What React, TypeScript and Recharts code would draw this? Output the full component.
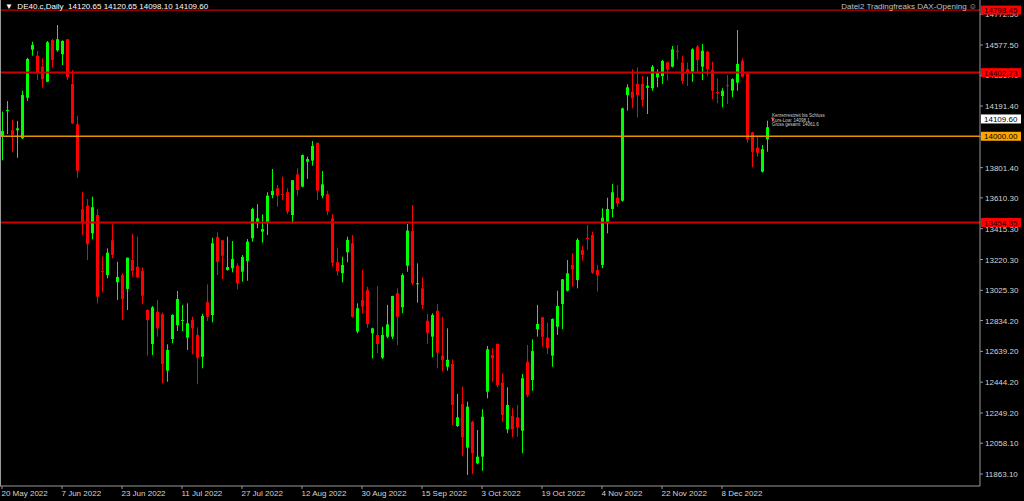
import { ComposedChart, Bar, XAxis, YAxis, ReferenceLine } from 'recharts';

// DE40.c daily candles, 20 May 2022 onwards
const opens = [
  13997, 14161, 14038, 14038, 13987, 14244, 14548, 14510, 14440, 14345,
  14609, 14544, 14519, 14614, 14331, 14076, 13538, 13561, 13386, 13502,
  13148, 13122, 13342, 13076, 13122, 13034, 13217, 13175, 13148, 12901,
  12686, 12890, 12874, 12517, 12717, 12806, 12834, 12726, 12838, 12743,
  12605, 12950, 12869, 13363, 13342, 13154, 13165, 13181, 13143, 13211,
  13355, 13453, 13396, 13456, 13628, 13671, 13635, 13646, 13502, 13759,
  13681, 13839, 13846, 13958, 13624, 13633, 13481, 13203, 13133, 13266,
  13323, 12764, 12964, 13027, 12753, 12743, 12599, 12732, 12732, 13007,
  12918, 13181, 13401, 13068, 13038, 12833, 12732, 12896, 12612, 12542,
  12559, 12167, 12306, 12030, 12194, 11931, 11973, 12384, 12616, 12686,
  12441, 12146, 12230, 12222, 12137, 12574, 12458, 12779, 12855, 12726,
  12612, 12795, 12939, 13023, 13186, 13091, 13281, 13356, 13375, 13154,
  13186, 13449, 13540, 13611, 13592, 14261, 14282, 14331, 14331, 14307,
  14304, 14373, 14381, 14468, 14440, 14541, 14466, 14424, 14409, 14567,
  14440, 14535, 14419, 14280, 14255, 14324, 14288, 14339, 14478, 14394,
  14025, 13928, 13776, 13981, 14120.65,
];
const highs = [
  14156, 14223, 14103, 14097, 14288, 14497, 14598, 14540, 14493, 14603,
  14615, 14704, 14607, 14615, 14419, 14128, 13649, 13603, 13618, 13540,
  13238, 13291, 13443, 13206, 13133, 13232, 13382, 13365, 13171, 12905,
  12926, 12964, 12884, 12684, 12874, 13021, 12933, 12943, 12858, 12791,
  12876, 13063, 13358, 13392, 13344, 13365, 13337, 13196, 13249, 13350,
  13548, 13570, 13506, 13646, 13793, 13692, 13744, 13671, 13723, 13797,
  13885, 13871, 13970, 13962, 13780, 13654, 13508, 13295, 13238, 13365,
  13375, 12943, 13154, 13048, 12789, 13053, 12795, 12933, 12991, 13038,
  13133, 13445, 13565, 13196, 13108, 12876, 12880, 12939, 12858, 12785,
  12589, 12369, 12416, 12321, 12200, 12142, 12273, 12673, 12659, 12690,
  12500, 12412, 12279, 12300, 12496, 12679, 12715, 12933, 12858, 12821,
  12848, 13023, 13097, 13217, 13260, 13355, 13306, 13439, 13396, 13186,
  13544, 13611, 13698, 13692, 14181, 14329, 14424, 14436, 14381, 14377,
  14451, 14424, 14483, 14472, 14571, 14578, 14508, 14466, 14557, 14578,
  14584, 14540, 14472, 14367, 14304, 14388, 14367, 14672, 14493, 14398,
  14029, 13994, 13945, 14099, 14120.65,
];
const lows = [
  13848, 14014, 13902, 13864, 13983, 14223, 14510, 14356, 14307, 14343,
  14434, 14535, 14451, 14356, 14078, 13738, 13375, 13217, 13348, 12943,
  13013, 13101, 13228, 12964, 12838, 12901, 13112, 13101, 12937, 12612,
  12616, 12732, 12437, 12447, 12690, 12768, 12768, 12648, 12621, 12431,
  12532, 12831, 12823, 13122, 13097, 13150, 13139, 13032, 13080, 13086,
  13333, 13418, 13327, 13375, 13608, 13554, 13597, 13508, 13449, 13624,
  13678, 13730, 13814, 13597, 13608, 13502, 13175, 13118, 13076, 13203,
  12852, 12753, 12880, 12789, 12595, 12627, 12591, 12722, 12717, 12679,
  12880, 13143, 13059, 12947, 12905, 12686, 12602, 12532, 12511, 12517,
  12173, 12160, 11977, 11857, 11863, 11925, 11884, 12342, 12447, 12412,
  12194, 12121, 12095, 12099, 11994, 12349, 12390, 12732, 12669, 12622,
  12542, 12743, 12779, 13018, 13048, 13038, 13213, 13281, 13129, 13017,
  13165, 13386, 13487, 13554, 13586, 14162, 14177, 14120, 14187, 14141,
  14288, 14310, 14331, 14352, 14436, 14487, 14331, 14318, 14345, 14398,
  14356, 14381, 14234, 14209, 14183, 14204, 14247, 14288, 14373, 13959,
  13804, 13871, 13770, 13902, 14098.1,
];
const closes = [
  14033, 14166, 14008, 14050, 14261, 14489, 14578, 14405, 14361, 14595,
  14483, 14614, 14603, 14375, 14082, 13782, 13449, 13317, 13551, 12985,
  13143, 13263, 13249, 13110, 12970, 13232, 13148, 13108, 12991, 12838,
  12918, 12785, 12559, 12648, 12869, 12970, 12838, 12817, 12785, 12599,
  12863, 12858, 13323, 13206, 13244, 13173, 13224, 13070, 13236, 13333,
  13540, 13481, 13413, 13624, 13654, 13624, 13632, 13523, 13722, 13660,
  13881, 13856, 13939, 13656, 13696, 13527, 13200, 13148, 13186, 13344,
  12858, 12912, 12922, 12812, 12785, 12686, 12743, 12810, 12989, 12858,
  13122, 13403, 13070, 13070, 12933, 12757, 12869, 12631, 12585, 12585,
  12300, 12222, 12095, 12289, 11994, 11973, 12226, 12652, 12595, 12426,
  12237, 12300, 12146, 12159, 12469, 12363, 12641, 12812, 12732, 12659,
  12844, 12926, 13095, 13133, 13158, 13344, 13249, 13353, 13137, 13122,
  13485, 13540, 13646, 13576, 14177, 14310, 14240, 14261, 14230, 14320,
  14440, 14405, 14476, 14424, 14550, 14538, 14350, 14398, 14550, 14483,
  14541, 14426, 14288, 14276, 14288, 14321, 14361, 14457, 14377, 13981,
  13902, 13896, 13918, 14057, 14109.6,
];

// one label every 12 bars
const xTickIdx = [0, 12, 24, 36, 48, 60, 72, 84, 96, 108, 120, 132, 144];
const xTickText = [
  '20 May 2022', '7 Jun 2022', '23 Jun 2022', '11 Jul 2022', '27 Jul 2022',
  '12 Aug 2022', '30 Aug 2022', '15 Sep 2022', '3 Oct 2022', '19 Oct 2022',
  '4 Nov 2022', '22 Nov 2022', '8 Dec 2022',
];

const yTicks = [
  11863.1, 12058.1, 12249.2, 12444.2, 12639.2, 12834.2, 13025.3, 13220.3,
  13415.3, 13610.3, 13801.4, 13996.4, 14191.4, 14386.4, 14577.5, 14772.5,
];

const redLevels = [14798.45, 14402.73, 13454.35];
const orangeLevel = 14000;
const lastPrice = 14109.6;

// price tags on the scale, drawn after the normal ticks so they sit on top
const tagValues = [...redLevels, orangeLevel, lastPrice];
const tagBg = ['#ff0000', '#ff0000', '#ff0000', '#ffa500', '#ffffff'];
const tagFg = ['#200000', '#200000', '#200000', '#000000', '#000000'];

const SLOTS = 196; // empty space to the right of the last bar
const data = Array.from({ length: SLOTS }, (_, i) =>
  i < opens.length
    ? { i, open: opens[i], high: highs[i], low: lows[i], close: closes[i] }
    : { i },
);

const FONT = '"Liberation Sans", Arial, sans-serif';
const AXIS = '#9a9a9a';

function Candle(props: any) {
  const { x, y, width, height, payload } = props;
  if (payload == null || payload.high == null) return <g />;
  const { open, close, high, low } = payload;
  const k = high - low > 0 ? height / (high - low) : 0;
  const cx = x + width / 2;
  const top = y + (high - Math.max(open, close)) * k;
  const bot = y + (high - Math.min(open, close)) * k;
  const color = close > open ? '#00ff00' : '#ff0000';
  return (
    <g>
      <rect x={cx - 0.5} y={y} width={1} height={Math.max(1, height)} fill={color} />
      <rect x={cx - 1.5} y={top} width={3} height={Math.max(1, bot - top)} fill={color} />
    </g>
  );
}

function XTick(props: any) {
  const { x, y, payload } = props;
  const k = xTickIdx.indexOf(payload.value);
  if (k < 0) return <g />;
  return (
    <g>
      <line x1={x - 0.5} x2={x - 0.5} y1={y} y2={y + 3} stroke={AXIS} />
      <text x={x - 1} y={y + 10} fontSize={8} fill="#d4d4d4" fontFamily={FONT}>
        {xTickText[k]}
      </text>
    </g>
  );
}

function YTick(props: any) {
  const { x, y, payload, index } = props;
  const t = index - yTicks.length;
  if (t >= 0) {
    return (
      <g>
        <rect x={x + 1} y={y - 4.5} width={40} height={9} fill={tagBg[t]} />
        <text x={x + 4} y={y + 3} fontSize={8} fill={tagFg[t]} fontFamily={FONT}>
          {tagValues[t].toFixed(2)}
        </text>
      </g>
    );
  }
  return (
    <g>
      <line x1={x} x2={x + 3} y1={y} y2={y} stroke={AXIS} />
      <text x={x + 5} y={y + 3} fontSize={8} fill="#d4d4d4" fontFamily={FONT}>
        {Number(payload.value).toFixed(2)}
      </text>
    </g>
  );
}

export default function App() {
  return (
    <div style={{ position: 'absolute', left: 0, top: 0, width: 1024, height: 501, background: '#000', overflow: 'hidden' }}>
      <ComposedChart
        width={1024}
        height={501}
        data={data}
        margin={{ top: 0, right: 0, bottom: 0, left: 0 }}
        barCategoryGap={0}
        barGap={0}
      >
        <XAxis
          dataKey="i"
          type="category"
          interval={0}
          height={15}
          tickSize={0}
          tickMargin={0}
          tickLine={false}
          axisLine={{ stroke: AXIS }}
          tick={<XTick />}
        />
        <YAxis
          orientation="right"
          width={44}
          domain={[11787.3, 14862.2]}
          allowDataOverflow
          ticks={[...yTicks, ...tagValues]}
          interval={0}
          tickSize={0}
          tickMargin={0}
          tickLine={false}
          axisLine={{ stroke: AXIS }}
          tick={<YTick />}
        />
        <Bar
          dataKey={(d: any) => (d.high == null ? null : [d.low, d.high])}
          shape={<Candle />}
          isAnimationActive={false}
        />
        {redLevels.map((v, n) => (
          <ReferenceLine
            key={v}
            y={v}
            stroke={n === 0 ? '#ff0000' : '#d00000'}
            strokeWidth={n === 0 ? 1 : 2}
          />
        ))}
        <ReferenceLine y={orangeLevel} stroke="#e39400" strokeWidth={1.5} />
      </ComposedChart>

      <div style={{ position: 'absolute', left: 0, top: 0, width: 1, height: 486, background: AXIS }} />

      <div style={{ position: 'absolute', left: 5, top: 2, fontFamily: FONT, fontSize: 8, color: '#fff', whiteSpace: 'pre' }}>
        {'\u25BC  DE40.c,Daily  14120.65 14120.65 14098.10 14109.60'}
      </div>
      <div style={{ position: 'absolute', right: 47, top: 2, fontFamily: FONT, fontSize: 8, color: '#c0c0c0', whiteSpace: 'pre' }}>
        {'Datei2 Tradingfreaks DAX-Opening \u263A'}
      </div>
      <div style={{ position: 'absolute', left: 772, top: 114, fontFamily: FONT, fontSize: 4.5, lineHeight: '4.6px', color: '#cfcfcf', whiteSpace: 'pre' }}>
        <div>Kerzenrestzeit bis Schluss</div>
        <div>Kurs-Low: 14098.1</div>
        <div>Gross gesamt: 14061.6</div>
      </div>
    </div>
  );
}
